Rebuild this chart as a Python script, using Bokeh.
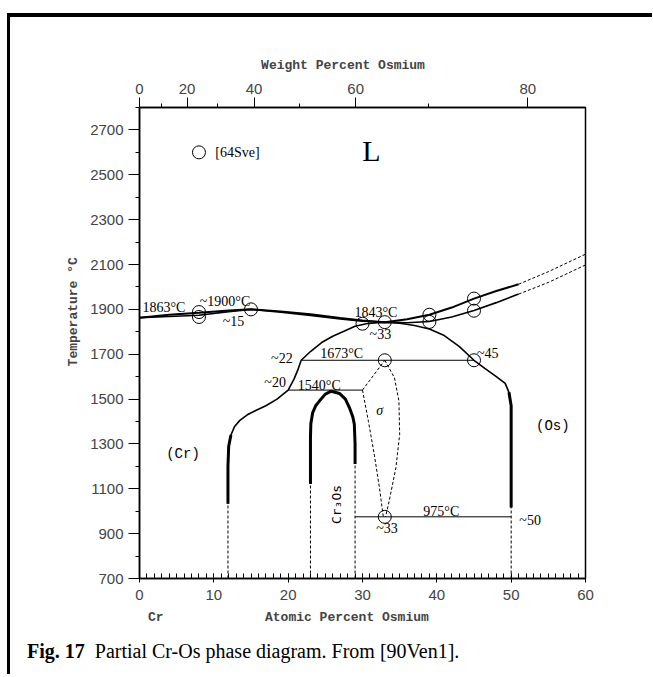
import math
from bokeh.plotting import figure
from bokeh.layouts import column
from bokeh.models import (LinearAxis, FixedTicker, CustomJSTickFormatter, Label, Range1d, Div)
from bokeh.embed import file_html
from bokeh.resources import INLINE

# ---------------- data (atomic % Os, temperature in deg C) ----------------
# liquidus (solid part + dashed extrapolation)
liq_x = [0, 4, 8, 12, 15, 19, 23, 27, 30, 33, 36, 39, 42, 45, 48, 51]
liq_T = [1863, 1876, 1885, 1895, 1900, 1891, 1878, 1861, 1850, 1843, 1856, 1876, 1908, 1948, 1982, 2012]
liq_dx = [51, 55, 60]
liq_dT = [2012, 2068, 2146]
# solidus
sol_x = [0, 4, 8, 12, 15, 19, 23, 27, 30, 33, 36, 39, 42, 45, 48, 51]
sol_T = [1863, 1868, 1874, 1890, 1900, 1887, 1873, 1857, 1847, 1843, 1840, 1846, 1866, 1895, 1930, 1968]
sol_dx = [51, 55, 60]
sol_dT = [1968, 2020, 2098]
# (Cr) solvus continuing into the high-temperature dome
cr_x = [11.9, 11.9, 12.0, 12.3, 12.8, 13.5, 14.5, 15.5, 17.0, 18.5, 20.0, 20.8, 21.3, 21.75]
cr_T = [1033, 1200, 1290, 1340, 1378, 1405, 1430, 1447, 1470, 1500, 1540, 1590, 1630, 1673]
dome_x = [21.75, 23, 24.5, 26, 27.5, 29, 30.5, 32, 33.5, 35, 37, 39, 41, 43, 45, 46.5, 48, 49.2, 49.7, 50, 50]
dome_T = [1673, 1712, 1752, 1780, 1802, 1825, 1836, 1841, 1842, 1838, 1828, 1812, 1783, 1735, 1673, 1636, 1600, 1570, 1530, 1470, 1017]
# Cr3Os phase field
c3_x = [23, 23, 23.05, 23.3, 23.7, 24.2, 25, 25.8, 26.9, 27.7, 28.25, 28.7, 28.9, 29, 29]
c3_T = [1121, 1330, 1390, 1440, 1470, 1491, 1522, 1535, 1525, 1500, 1461, 1420, 1388, 1300, 1210]
# sigma phase field (dashed)
sigL_x = [30.0, 30.8, 31.6, 32.3, 32.8]
sigL_T = [1540, 1400, 1250, 1100, 975]
sigR_x = [33.0, 34.3, 34.9, 35.0, 34.5, 33.6, 33.1]
sigR_T = [1673, 1595, 1491, 1343, 1195, 1047, 975]
sigT_x = [30.0, 33.0]
sigT_T = [1540, 1673]
# dashed verticals below the phase boundaries
dv_x = [11.9, 23, 29, 50]
dv_top = [1033, 1121, 1210, 1017]
# invariant temperatures
inv_T = [1673, 1540, 975]
inv_x0 = [21.75, 20, 29]
inv_x1 = [45, 30, 50]
# experimental points
pt_x = [8, 8, 15, 30, 33, 39, 39, 45, 45, 33, 45, 33]
pt_T = [1888, 1866, 1900, 1836, 1843, 1876, 1844, 1948, 1894, 1673, 1673, 975]
ref_x = [8]
ref_T = [2600]
# axis ticks
y_major = [700, 900, 1100, 1300, 1500, 1700, 1900, 2100, 2300, 2500, 2700]
y_minor = [800, 1000, 1200, 1400, 1600, 1800, 2000, 2200, 2400, 2600, 2800]
x_major = [0, 10, 20, 30, 40, 50, 60]
wt_major = [0, 20, 40, 60, 80]
wt_minor = [10, 30, 50, 70]
M_OS, M_CR = 190.23, 51.996


def wt_to_at(w):
    a = w / M_OS
    b = (100 - w) / M_CR
    return 100 * a / (a + b)


SERIF = "Liberation Serif"
MONO = "Liberation Mono"
SANS = "Liberation Sans"
NB = "\u00a0"

W, H = 642, 617
p = figure(width=W, height=H, output_backend="svg", toolbar_location=None,
           x_range=Range1d(0, 60), y_range=Range1d(700, 2800),
           min_border_left=129, min_border_right=67, min_border_top=90, min_border_bottom=H - 90 - 471)
p.xgrid.visible = False
p.ygrid.visible = False
p.outline_line_color = "black"
p.outline_line_width = 1.5
p.background_fill_color = "white"
p.border_fill_color = "white"

# bottom axis ("Cr" marks the pure-chromium end)
xa = p.xaxis[0]
xa.ticker = FixedTicker(ticks=x_major, minor_ticks=list(range(0, 61)))
xa.axis_label = "Cr" + NB * 13 + "Atomic Percent Osmium" + NB * 19
xa.axis_label_text_font = MONO
xa.axis_label_text_font_style = "bold"
xa.axis_label_text_font_size = "13px"
xa.axis_label_standoff = 7
xa.major_label_text_font = SANS
xa.major_label_text_font_size = "15px"
xa.major_label_standoff = 7
xa.major_tick_in = 5
xa.major_tick_out = 4
xa.minor_tick_in = 5
xa.minor_tick_out = 0
xa.axis_line_width = 1.5

# left axis
ya = p.yaxis[0]
ya.ticker = FixedTicker(ticks=y_major, minor_ticks=y_minor)
ya.axis_label = NB * 8 + "Temperature °C"
ya.axis_label_text_font = MONO
ya.axis_label_text_font_style = "bold"
ya.axis_label_text_font_size = "13px"
ya.axis_label_standoff = 6
ya.major_label_text_font = SANS
ya.major_label_text_font_size = "15px"
ya.major_label_standoff = 5
ya.major_tick_in = 0
ya.major_tick_out = 11
ya.minor_tick_in = 0
ya.minor_tick_out = 4
ya.axis_line_width = 1.5

# top axis: weight percent
ta = LinearAxis(ticker=FixedTicker(ticks=[wt_to_at(w) for w in wt_major],
                                   minor_ticks=[wt_to_at(w) for w in wt_minor]))
ta.formatter = CustomJSTickFormatter(code="""
const a = 190.23*tick, b = 51.996*(100-tick);
return Math.round(100*a/(a+b)).toString();
""")
ta.axis_label = "Weight Percent Osmium" + NB * 5
ta.axis_label_text_font = MONO
ta.axis_label_text_font_style = "bold"
ta.axis_label_text_font_size = "13px"
ta.axis_label_standoff = 8
ta.major_label_text_font = SANS
ta.major_label_text_font_size = "15px"
ta.major_label_standoff = 4
ta.major_tick_in = 0
ta.major_tick_out = 10
ta.minor_tick_in = 0
ta.minor_tick_out = 4
ta.axis_line_width = 1.5
p.add_layout(ta, "above")

# ---------------- curves ----------------
p.line(liq_x, liq_T, line_color="black", line_width=2)
p.line(sol_x, sol_T, line_color="black", line_width=1.6)
p.line(liq_dx, liq_dT, line_color="black", line_width=1, line_dash="3 2")
p.line(sol_dx, sol_dT, line_color="black", line_width=1, line_dash="3 2")
p.line(cr_x, cr_T, line_color="black", line_width=1.6)
p.line(cr_x[:4], cr_T[:4], line_color="black", line_width=3)
p.line(dome_x, dome_T, line_color="black", line_width=1.6)
p.line(dome_x[-3:], dome_T[-3:], line_color="black", line_width=3)
p.line(c3_x, c3_T, line_color="black", line_width=3)
p.line(sigL_x, sigL_T, line_color="black", line_width=1, line_dash="3 2")
p.line(sigR_x, sigR_T, line_color="black", line_width=1, line_dash="3 2")
p.line(sigT_x, sigT_T, line_color="black", line_width=1, line_dash="3 2")
p.segment(x0=dv_x, y0=[700] * len(dv_x), x1=dv_x, y1=dv_top,
          line_color="black", line_width=1, line_dash="3 2")
p.segment(x0=inv_x0, y0=inv_T, x1=inv_x1, y1=inv_T, line_color="black", line_width=1)
p.scatter(pt_x, pt_T, marker="circle", size=13, fill_color=None, line_color="black", line_width=1)
p.scatter(ref_x, ref_T, marker="circle", size=13, fill_color=None, line_color="black", line_width=1)


def lab(x, y, text, font=SERIF, size="14px", align="left", baseline="middle",
        angle=0, style="normal"):
    p.add_layout(Label(x=x, y=y, text=text, text_font=font, text_font_size=size,
                       text_align=align, text_baseline=baseline, angle=angle,
                       text_font_style=style, text_color="black"))


lab(10.2, 2600, "[64Sve]")
lab(31.2, 2610, "L", size="30px", align="center")
lab(0.4, 1910, "1863°C")
lab(8.1, 1937, "~1900°C")
lab(11.2, 1845, "~15")
lab(31.8, 1888, "1843°C", align="center")
lab(32.4, 1790, "~33", align="center")
lab(24.3, 1702, "1673°C")
lab(20.6, 1682, "~22", align="right")
lab(21.3, 1560, "1540°C")
lab(19.7, 1575, "~20", align="right")
lab(45.4, 1705, "~45")
lab(5.85, 1256, "(Cr)", font=MONO, align="center")
lab(55.6, 1380, "(Os)", font=MONO, align="center")
lab(32.3, 1447, "σ", style="italic", align="center")
lab(26.5, 1030, "Cr₃Os", font="DejaVu Sans Mono", size="13px", align="center", angle=math.pi / 2)
lab(40.6, 1000, "975°C", align="center")
lab(33.3, 922, "~33", align="center")
lab(51.1, 958, "~50")

caption = Div(text="<b>Fig. 17</b>&nbsp; Partial Cr-Os phase diagram. From [90Ven1].",
              width=620, height=30,
              styles={"font-family": "Liberation Serif", "font-size": "20px",
                      "line-height": "24px", "color": "black", "padding-left": "12px",
                      "white-space": "nowrap"})

page = column(p, caption, spacing=0,
              styles={"border-left": "3px solid black", "border-top": "4px solid black",
                      "margin-left": "7px", "margin-top": "13px", "background": "white"})

open("out.html", "w").write(file_html(page, INLINE))
